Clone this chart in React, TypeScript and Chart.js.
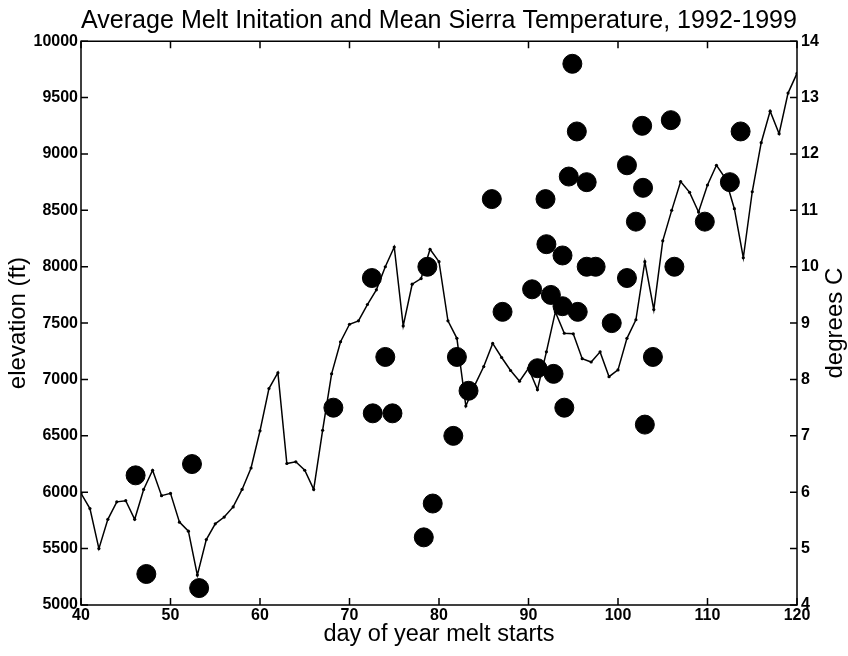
import React, { useEffect, useRef } from "react";
import { Chart, registerables } from "chart.js";

Chart.register(...registerables);

const TITLE = "Average Melt Initation and Mean Sierra Temperature, 1992-1999";
const X_TITLE = "day of year melt starts";
const Y_TITLE = "elevation (ft)";
const Y1_TITLE = "degrees C";

// Melt initiation: day of year vs elevation (ft)
const meltDay = [46.1, 47.3, 52.4, 53.2, 68.2, 72.5, 72.6, 74.0, 74.8, 78.3, 79.3, 78.7, 81.6, 82.0, 83.3, 85.9, 87.1, 90.4, 91.0, 91.9, 92.0, 92.5, 92.8, 93.8, 93.8, 94.0, 94.5, 94.9, 95.4, 95.5, 96.5, 96.5, 97.5, 99.3, 101.0, 101.0, 102.0, 102.7, 102.8, 103.0, 103.9, 105.9, 106.3, 109.7, 112.5, 113.7];
const meltElev = [6150, 5275, 6250, 5150, 6750, 7900, 6700, 7200, 6700, 5600, 5900, 8000, 6500, 7200, 6900, 8600, 7600, 7800, 7100, 8600, 8200, 7750, 7050, 8100, 7650, 6750, 8800, 9800, 9200, 7600, 8750, 8000, 8000, 7500, 8900, 7900, 8400, 9250, 8700, 6600, 7200, 9300, 8000, 8400, 8750, 9200];

// Mean Sierra temperature (degrees C) by day of year
const tempDay = [40, 41, 42, 43, 44, 45, 46, 47, 48, 49, 50, 51, 52, 53, 54, 55, 56, 57, 58, 59, 60, 61, 62, 63, 64, 65, 66, 67, 68, 69, 70, 71, 72, 73, 74, 75, 76, 77, 78, 79, 80, 81, 82, 83, 84, 85, 86, 87, 88, 89, 90, 91, 92, 93, 94, 95, 96, 97, 98, 99, 100, 101, 102, 103, 104, 105, 106, 107, 108, 109, 110, 111, 112, 113, 114, 115, 116, 117, 118, 119, 120];
const tempC = [5.98, 5.71, 5.0, 5.52, 5.83, 5.85, 5.52, 6.05, 6.39, 5.94, 5.98, 5.47, 5.31, 4.53, 5.16, 5.44, 5.56, 5.74, 6.05, 6.43, 7.09, 7.84, 8.12, 6.51, 6.54, 6.39, 6.05, 7.10, 8.10, 8.67, 8.98, 9.04, 9.33, 9.59, 10.0, 10.35, 8.95, 9.69, 9.79, 10.31, 10.09, 9.04, 8.73, 7.53, 7.9, 8.23, 8.64, 8.39, 8.16, 7.97, 8.2, 7.82, 8.49, 9.2, 8.82, 8.81, 8.37, 8.31, 8.49, 8.05, 8.17, 8.73, 9.06, 10.09, 9.24, 10.46, 11.0, 11.51, 11.32, 10.97, 11.45, 11.8, 11.57, 11.03, 10.16, 11.33, 12.2, 12.76, 12.36, 13.08, 13.43];

const FONT = "'Liberation Sans', Arial, Helvetica, sans-serif";
const NARROW = "'Liberation Sans Narrow', 'Arial Narrow', 'Liberation Sans', sans-serif";

const framePlugin = {
  id: "frameTicks",
  afterDraw(chart: any) {
    const { ctx, chartArea, scales } = chart;
    const { left, right, top, bottom } = chartArea;
    const tl = 7;
    ctx.save();
    ctx.strokeStyle = "#000";
    ctx.lineWidth = 1.5;
    ctx.strokeRect(left, top, right - left, bottom - top);
    ctx.beginPath();
    scales.x.ticks.forEach((t: any) => {
      const px = scales.x.getPixelForValue(t.value);
      ctx.moveTo(px, bottom);
      ctx.lineTo(px, bottom - tl);
      ctx.moveTo(px, top);
      ctx.lineTo(px, top + tl);
    });
    scales.y.ticks.forEach((t: any) => {
      const py = scales.y.getPixelForValue(t.value);
      ctx.moveTo(left, py);
      ctx.lineTo(left + tl, py);
    });
    scales.y1.ticks.forEach((t: any) => {
      const py = scales.y1.getPixelForValue(t.value);
      ctx.moveTo(right, py);
      ctx.lineTo(right - tl, py);
    });
    ctx.stroke();
    // right axis title, reading bottom-to-top
    ctx.fillStyle = "#000";
    ctx.font = `24px ${FONT}`;
    ctx.textAlign = "center";
    ctx.textBaseline = "middle";
    ctx.translate(835, (top + bottom) / 2);
    ctx.rotate(-Math.PI / 2);
    ctx.fillText(Y1_TITLE, 0, 0);
    ctx.restore();
  },
};

export default function App() {
  const ref = useRef<HTMLCanvasElement | null>(null);
  useEffect(() => {
    if (!ref.current) return;
    const tickFont = { family: NARROW, size: 16, weight: "bold" as const };
    const chart = new Chart(ref.current, {
      type: "scatter",
      data: {
        datasets: [
          {
            label: "melt initiation",
            data: meltDay.map((d, i) => ({ x: d, y: meltElev[i] })),
            yAxisID: "y",
            backgroundColor: "#000",
            borderColor: "#000",
            borderWidth: 1,
            pointRadius: 9.5,
            pointHoverRadius: 9.5,
          },
          {
            label: "temperature",
            type: "line",
            data: tempDay.map((d, i) => ({ x: d, y: tempC[i] })),
            yAxisID: "y1",
            showLine: true,
            borderColor: "#000",
            backgroundColor: "#000",
            borderWidth: 1.5,
            pointRadius: 1.6,
            pointBorderWidth: 0,
            tension: 0,
            fill: false,
          } as any,
        ],
      },
      options: {
        responsive: false,
        animation: false,
        layout: { padding: 0 },
        plugins: {
          legend: { display: false },
          tooltip: { enabled: false },
          title: {
            display: true,
            text: TITLE,
            color: "#000",
            fullSize: false,
            font: { family: FONT, size: 26.3, weight: "normal", lineHeight: 1.15 },
            padding: { top: 6, bottom: 5 },
          },
        },
        scales: {
          x: {
            type: "linear",
            min: 40,
            max: 120,
            grid: { display: false, drawTicks: false },
            border: { display: false },
            ticks: {
              stepSize: 10,
              padding: 1,
              color: "#000",
              font: tickFont,
              callback: (v: any) => String(v),
            },
            title: {
              display: true,
              text: X_TITLE,
              color: "#000",
              font: { family: FONT, size: 23.5 },
              padding: { top: 0, bottom: 7 },
            },
            afterFit: (s: any) => {
              s.height = 51;
            },
          },
          y: {
            type: "linear",
            position: "left",
            min: 5000,
            max: 10000,
            grid: { display: false, drawTicks: false },
            border: { display: false },
            ticks: {
              stepSize: 500,
              padding: 3,
              color: "#000",
              font: tickFont,
              callback: (v: any) => String(v),
            },
            title: {
              display: true,
              text: Y_TITLE,
              color: "#000",
              font: { family: FONT, size: 24 },
              padding: { top: 4, bottom: 0 },
            },
            afterFit: (s: any) => {
              s.width = 81;
            },
          },
          y1: {
            type: "linear",
            position: "right",
            min: 4,
            max: 14,
            grid: { display: false, drawTicks: false },
            border: { display: false },
            ticks: {
              stepSize: 1,
              padding: 4,
              color: "#000",
              font: tickFont,
              callback: (v: any) => String(v),
            },
            title: { display: false, text: Y1_TITLE },
            afterFit: (s: any) => {
              s.width = 51;
            },
          },
        },
      },
      plugins: [framePlugin],
    });
    return () => chart.destroy();
  }, []);
  return (
    <div style={{ position: "absolute", left: 0, top: 0, width: 848, height: 656, background: "#fff" }}>
      <canvas ref={ref} width={848} height={656} />
    </div>
  );
}
